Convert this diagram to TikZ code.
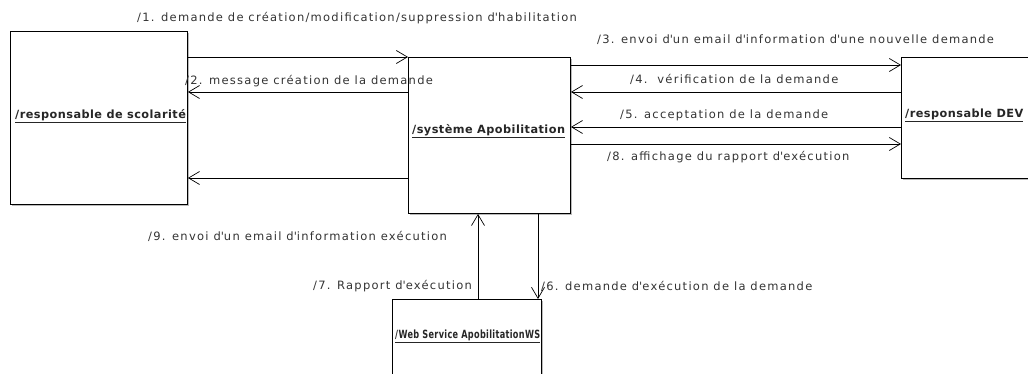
\documentclass[tikz,border=0pt]{standalone}
\usepackage{fontspec}
\setmainfont{DejaVu Sans}
\newfontfamily\msgfont[LetterSpace=11]{DejaVu Sans}
\newfontfamily\boxfont[LetterSpace=4]{DejaVu Sans}
\newcommand{\apos}{\textquotesingle}
\usetikzlibrary{arrows.meta,shadows}
\definecolor{msgtext}{HTML}{333333}
\begin{document}
\begin{tikzpicture}[x=1pt,y=-1pt,
  box/.style={draw=black, line width=0.9pt, fill=white, inner sep=0pt, anchor=north west,
    drop shadow={shadow xshift=1.5pt, shadow yshift=-1.5pt, fill=black!45, opacity=0.6}},
  msg/.style={draw=black, line width=0.8pt, -{Straight Barb[length=11pt,width=13pt,line width=0.7pt]}},
  lab/.style={font=\msgfont\fontsize{11.5}{13}\selectfont, text=msgtext, inner sep=0pt, anchor=west},
  boxlab/.style={font=\boxfont\bfseries\fontsize{11.3}{13}\selectfont, text=black!85, inner sep=0pt, anchor=west}]
\useasboundingbox (0,0) rectangle (1028,374);
\clip (0,0) rectangle (1028,374);
% boxes
\node[box, minimum width=177pt, minimum height=173pt] (sco) at (10,31) {};
\node[box, minimum width=162pt, minimum height=156pt] (sys) at (408,57) {};
\node[box, minimum width=160pt, minimum height=121pt] (dev) at (901,57) {};
\node[box, minimum width=149pt, minimum height=100pt] (ws) at (392,299) {};
% box labels
\node[boxlab] (lsco) at (15,116) {\underline{/responsable de scolarité}};
\node[boxlab] (lsys) at (412,131) {\underline{/système Apobilitation}};
\node[boxlab] (ldev) at (905,115) {\underline{/responsable DEV}};
\node[boxlab] (lws) at (395,336) {\resizebox{145pt}{\height}{\underline{/Web Service ApobilitationWS}}};
% helper levels
\coordinate (y2) at (0,92);
\coordinate (y9) at (0,178);
\coordinate (y3) at (0,65);
\coordinate (y4) at (0,92);
\coordinate (y5) at (0,127);
\coordinate (y8) at (0,144);
\coordinate (x7) at (478,0);
\coordinate (x6) at (538,0);
% connectors
\draw[msg] (sco.east |- sys.north west) -- (sys.north west);
\draw[msg] (sys.west |- y2) -- (sco.east |- y2);
\draw[msg] (sys.west |- y9) -- (sco.east |- y9);
\draw[msg] (sys.east |- y3) -- (dev.west |- y3);
\draw[msg] (dev.west |- y4) -- (sys.east |- y4);
\draw[msg] (dev.west |- y5) -- (sys.east |- y5);
\draw[msg] (sys.east |- y8) -- (dev.west |- y8);
\draw[msg] (x7 |- ws.north) -- (x7 |- sys.south);
\draw[msg] (x6 |- sys.south) -- (x6 |- ws.north);
% message labels
\node[lab] (m1) at (137,18) {/1. demande de création/modification/suppression d\apos habilitation};
\node[lab] (m2) at (185,81) {/2. message création de la demande};
\node[lab] (m3) at (597,40) {/3. envoi d\apos un email d\apos information d\apos une nouvelle demande};
\node[lab] (m4) at (630,79) {/4.\ \ vérification de la demande};
\node[lab] (m5) at (620,115) {/5. acceptation de la demande};
\node[lab] (m8) at (607,157) {/8. affichage du rapport d\apos exécution};
\node[lab] (m9) at (148,236) {/9. envoi d\apos un email d\apos information exécution};
\node[lab] (m7) at (313,286) {/7. Rapport d\apos exécution};
\node[lab] (m6) at (541,286) {/6. demande d\apos exécution de la demande};
\end{tikzpicture}
\end{document}
